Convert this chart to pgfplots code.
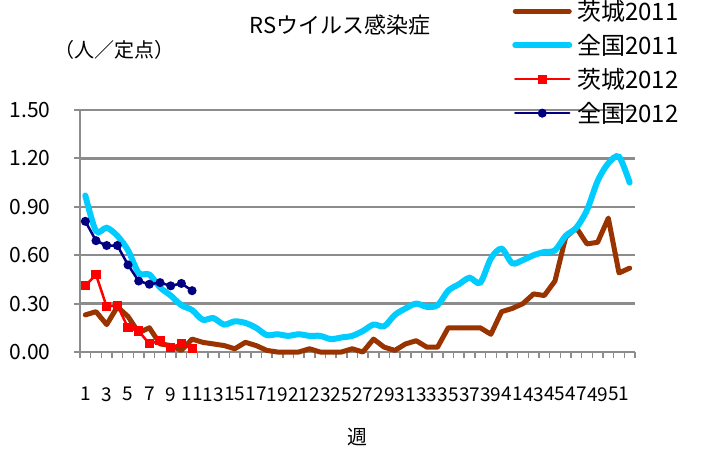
\documentclass[border=0pt]{standalone}
\usepackage{fontspec}
\setmainfont{Noto Sans CJK JP}
\usepackage{pgfplots}
\pgfplotsset{compat=1.18}
\definecolor{brownI}{HTML}{993300}
\definecolor{cyanJ}{HTML}{00CCFF}
\definecolor{redI}{HTML}{FF0000}
\definecolor{navyJ}{HTML}{000080}
\definecolor{gridgray}{HTML}{8C8C8C}

\begin{document}
\begin{tikzpicture}
\path (0,0) rectangle (701pt,456pt);
\node[font=\fontsize{22}{26}\selectfont] at (340pt,431pt) {RSウイルス感染症};
\node[font=\fontsize{20}{24}\selectfont] at (114pt,406pt) {（人／定点）};
\begin{axis}[
    at={(80pt,104pt)}, anchor=south west,
    scale only axis, width=555pt, height=242pt,
    xmin=0.5, xmax=52.5, ymin=0, ymax=1.5,
    axis x line*=bottom, axis y line*=left,
    axis line style={-, draw=gridgray, line width=2.5pt},
    ytick={0,0.3,0.6,0.9,1.2,1.5},
    yticklabels={0.00,0.30,0.60,0.90,1.20,1.50},
    ymajorgrids, grid style={draw=gridgray, line width=2.5pt},
    xtick={1,3,...,51},
    minor xtick={0.5,1.5,...,52.5},
    tick align=outside,
    major tick length=6pt, minor tick length=6pt,
    major x tick style={draw=none},
    minor x tick style={draw=gridgray, line width=1.5pt},
    ytick style={draw=gridgray, line width=2pt},
    /pgf/number format/assume math mode=true,
    xticklabel style={font=\fontsize{19}{22}\selectfont, yshift=-29pt, inner sep=0pt},
    yticklabel style={font=\fontsize{21}{24}\selectfont, xshift=-20pt},
    xlabel={週},
    xlabel style={font=\fontsize{20}{24}\selectfont, at={(axis description cs:0.5,-0.351)}, anchor=center},
    legend style={draw=none, fill=none, font=\fontsize{24}{28}\selectfont,
        at={(axis description cs:0.7785,1.454)}, anchor=north west,
        inner sep=0pt, nodes={inner ysep=0pt}, row sep=12.3pt, column sep=3pt},
    legend cell align=left,
    legend image code/.code={\draw[mark repeat=2,mark phase=2,line cap=round,#1] plot coordinates {(0pt,0pt) (27pt,0pt) (54pt,0pt)};},
    clip=false,
]
% 茨城2011
\addplot[brownI, line width=5pt, line join=round, line cap=round, no markers] coordinates {
(1,0.23) (2,0.25) (3,0.17) (4,0.28) (5,0.22) (6,0.12) (7,0.15) (8,0.05) (9,0.04) (10,0.01)
(11,0.08) (12,0.06) (13,0.05) (14,0.04) (15,0.02) (16,0.06) (17,0.04) (18,0.01) (19,0.00) (20,0.00)
(21,0.00) (22,0.02) (23,0.00) (24,0.00) (25,0.00) (26,0.02) (27,0.00) (28,0.08) (29,0.03) (30,0.01)
(31,0.05) (32,0.07) (33,0.03) (34,0.03) (35,0.15) (36,0.15) (37,0.15) (38,0.15) (39,0.11) (40,0.25)
(41,0.27) (42,0.30) (43,0.36) (44,0.35) (45,0.44) (46,0.71) (47,0.77) (48,0.67) (49,0.68) (50,0.83)
(51,0.49) (52,0.52)
};
\addlegendentry{茨城2011}
% 全国2011
\addplot[cyanJ, line width=6pt, line cap=round, smooth, tension=0.5, no markers] coordinates {
(1,0.97) (2,0.75) (3,0.77) (4,0.72) (5,0.63) (6,0.49) (7,0.48) (8,0.40) (9,0.35) (10,0.29)
(11,0.26) (12,0.20) (13,0.21) (14,0.17) (15,0.19) (16,0.18) (17,0.15) (18,0.105) (19,0.11) (20,0.10)
(21,0.11) (22,0.10) (23,0.10) (24,0.08) (25,0.09) (26,0.10) (27,0.13) (28,0.17) (29,0.16) (30,0.23)
(31,0.27) (32,0.30) (33,0.28) (34,0.29) (35,0.38) (36,0.42) (37,0.46) (38,0.43) (39,0.58) (40,0.64)
(41,0.55) (42,0.57) (43,0.60) (44,0.62) (45,0.63) (46,0.72) (47,0.77) (48,0.88) (49,1.06) (50,1.17)
(51,1.21) (52,1.05)
};
\addlegendentry{全国2011}
% 茨城2012
\addplot[redI, line width=2.5pt, mark=square*, mark size=3.3pt, mark options={solid}] coordinates {
(1,0.41) (2,0.48) (3,0.28) (4,0.29) (5,0.15) (6,0.13) (7,0.05) (8,0.07) (9,0.03) (10,0.05) (11,0.02)
};
\addlegendentry{茨城2012}
% 全国2012
\addplot[navyJ, line width=2.5pt, mark=*, mark size=3.2pt] coordinates {
(1,0.81) (2,0.69) (3,0.66) (4,0.66) (5,0.54) (6,0.44) (7,0.42) (8,0.43) (9,0.41) (10,0.425) (11,0.38)
};
\addlegendentry{全国2012}
\end{axis}
\end{tikzpicture}
\end{document}
